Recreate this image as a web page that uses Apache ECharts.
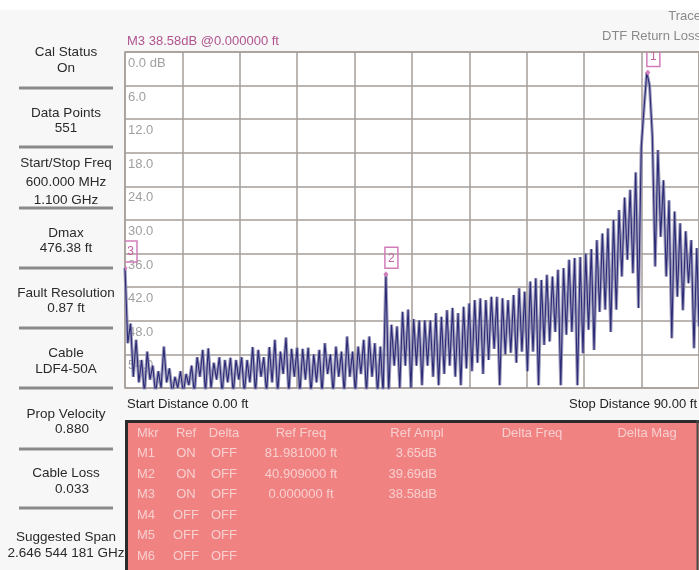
<!DOCTYPE html>
<html><head><meta charset="utf-8">
<script src="https://cdn.jsdelivr.net/npm/echarts/dist/echarts.min.js"></script>
<style>html,body{margin:0;padding:0;background:#f7f7f7;}#c{width:699px;height:570px;}</style>
</head><body><div id="c"></div>
<script>
// ---- DATA ----
// DTF return loss trace: ripple peaks (one per ripple period) and nulls between them, dB
const peakDb = [
 38.58, 48.5, 51.4, 55, 53.5, 56, 57, 52.6, 56.5, 58,
 57, 57.5, 56, 54.5, 53.2, 52.9, 55.5, 54.5, 55, 54.6,
 55, 54.5, 55, 52.7, 53.2, 54.5, 52.7, 51.4, 53.5, 51,
 53, 52.8, 53, 52.8, 54, 53.2, 52, 54, 52.6, 53.5,
 50.8, 53.5, 52.6, 51.4, 50.8, 52, 52.6, 39.69, 48.7, 49,
 46.4, 46, 47.7, 47.9, 47.9, 47.9, 46.6, 47.3, 46.1, 45.7,
 46.6, 45.5, 44.9, 44.3, 44, 44.3, 43.7, 43.7, 44, 44.3,
 43.4, 42.2, 42.8, 41, 40.4, 40.7, 39.8, 40.1, 38.9, 38.6,
 37.1, 36.8, 36.6, 36, 35.2, 33.6, 32.4, 31.5, 30, 28.2,
 26, 24.6, 21.5, 17, 3.65, 15, 17.5, 22.9, 26.5, 28.5,
 30.6, 32, 33.6, 35
];
const nullDb = [
 52, 58, 59, 61, 58.5, 61, 60, 59, 61, 60,
 61, 59.5, 61, 58, 61, 60, 58.5, 61, 59, 61,
 58.5, 61, 59, 61, 58, 61, 59, 61, 57.5, 61,
 58, 61, 58.5, 61, 59, 61, 57.5, 61, 58, 61,
 58, 61, 57.5, 61, 58, 61, 61, 61, 56, 60,
 56, 60, 56, 59.5, 56, 58, 59.5, 57.5, 56, 58,
 59.5, 56.5, 57, 55.5, 57.5, 55, 53, 59.5, 54, 53.7,
 55.5, 53.5, 57, 53.5, 59.5, 52.3, 51.7, 50, 59.5, 50.5,
 50, 59.5, 53.8, 49.6, 53.2, 46.4, 46, 50, 46, 40.1,
 37.1, 39.5, 45.7, 10, 6, 38.3, 33, 40.1, 51.1, 43.7,
 46.1, 41.3, 52.9
];
const endDb = 49;
const rippleFt = 0.8704;           // ripple period along distance
const startFt = 0, stopFt = 90;
const dbMin = 0, dbMax = 60, dbStep = 6, ftStep = 9;

// markers
const mkrNames = ['M1', 'M2', 'M3', 'M4', 'M5', 'M6'];
const mkrRef   = ['ON', 'ON', 'ON', 'OFF', 'OFF', 'OFF'];
const mkrDelta = ['OFF', 'OFF', 'OFF', 'OFF', 'OFF', 'OFF'];
const mkrDist  = [81.981, 40.909, 0.0];
const mkrAmp   = [3.65, 39.69, 38.58];
const tableHeads = ['Mkr', 'Ref', 'Delta', 'Ref Freq', 'Ref Ampl', 'Delta Freq', 'Delta Mag'];

// side panel
const panelTitles = ['Cal Status', 'Data Points', 'Start/Stop Freq', 'Dmax', 'Fault Resolution', 'Cable', 'Prop Velocity', 'Cable Loss', 'Suggested Span'];
const panelValues = [['On'], ['551'], ['600.000 MHz', '1.100 GHz'], ['476.38 ft'], ['0.87 ft'], ['LDF4-50A'], ['0.880'], ['0.033'], ['2.646 544 181 GHz']];

// ---- BUILD ----
const trace = [];
for (let k = 0; k < peakDb.length; k++) {
  trace.push([k * rippleFt, peakDb[k]]);
  if (k < nullDb.length) trace.push([(k + 0.5) * rippleFt, nullDb[k]]);
}
trace.push([stopFt, endDb]);

const markers = mkrDist.map((d, i) => [d, mkrAmp[i], i + 1]);

const FONT = 'Liberation Sans, Arial, sans-serif';
const gridCol = '#a69e99';
const g = [];
g.push({type: 'rect', shape: {x: 0, y: 0, width: 699, height: 10}, style: {fill: '#ffffff'}, silent: true});

// side panel layout
const panelY = [[52, 68], [113, 128], [163, 182, 200], [233, 248], [293, 308], [353, 369], [414, 429], [473, 489], [537, 553]];
const sepY = [88, 147, 208, 268, 328, 388, 449, 508];
panelTitles.forEach((t, i) => {
  g.push({type: 'text', x: 66, y: panelY[i][0], style: {text: t, font: '13.5px ' + FONT, fill: '#2a2a2a', align: 'center', verticalAlign: 'middle'}});
  panelValues[i].forEach((v, j) => {
    const cx = (i === 6 || i === 7) ? 72 : 66;
    g.push({type: 'text', x: cx, y: panelY[i][j + 1], style: {text: v, font: '13.5px ' + FONT, fill: '#2a2a2a', align: 'center', verticalAlign: 'middle'}});
  });
});
sepY.forEach(y => g.push({type: 'line', shape: {x1: 19, y1: y, x2: 113, y2: y}, style: {stroke: '#8a8a8a', lineWidth: 3}}));

// header texts
g.push({type: 'text', x: 127, y: 41, style: {text: 'M3 ' + mkrAmp[2].toFixed(2) + 'dB @' + mkrDist[2].toFixed(6) + ' ft', font: '13px ' + FONT, fill: '#b0558f', align: 'left', verticalAlign: 'middle'}});
g.push({type: 'text', x: 701, y: 16, style: {text: 'Trace', font: '13px ' + FONT, fill: '#8a8a8a', align: 'right', verticalAlign: 'middle'}});
g.push({type: 'text', x: 701, y: 36, style: {text: 'DTF Return Loss', font: '13px ' + FONT, fill: '#8a8a8a', align: 'right', verticalAlign: 'middle'}});
g.push({type: 'text', x: 127, y: 404, style: {text: 'Start Distance ' + startFt.toFixed(2) + ' ft', font: '13px ' + FONT, fill: '#222', align: 'left', verticalAlign: 'middle'}});
g.push({type: 'text', x: 697, y: 404, style: {text: 'Stop Distance ' + stopFt.toFixed(2) + ' ft', font: '13px ' + FONT, fill: '#222', align: 'right', verticalAlign: 'middle'}});

// marker table
g.push({type: 'rect', shape: {x: 125, y: 420, width: 574, height: 150}, style: {fill: '#f08282'}});
g.push({type: 'line', shape: {x1: 125, y1: 421.5, x2: 699, y2: 421.5}, style: {stroke: '#2b2b2b', lineWidth: 3}});
g.push({type: 'line', shape: {x1: 126.5, y1: 420, x2: 126.5, y2: 570}, style: {stroke: '#2b2b2b', lineWidth: 3}});
g.push({type: 'line', shape: {x1: 697.5, y1: 420, x2: 697.5, y2: 570}, style: {stroke: '#4a4a4a', lineWidth: 2}});
const colX = [137, 186, 224, 301, 417, 532, 647];
const rowY = [433, 453.5, 474, 494.5, 515, 535.5, 556];
const tcol = '#f8cfcf';
const tf = '13px ' + FONT;
tableHeads.forEach((h, c) => g.push({type: 'text', x: colX[c], y: rowY[0], style: {text: h, font: tf, fill: tcol, align: c === 0 ? 'left' : 'center', verticalAlign: 'middle'}}));
mkrNames.forEach((m, r) => {
  const y = rowY[r + 1];
  g.push({type: 'text', x: colX[0], y, style: {text: m, font: tf, fill: tcol, align: 'left', verticalAlign: 'middle'}});
  g.push({type: 'text', x: colX[1], y, style: {text: mkrRef[r], font: tf, fill: tcol, align: 'center', verticalAlign: 'middle'}});
  g.push({type: 'text', x: colX[2], y, style: {text: mkrDelta[r], font: tf, fill: tcol, align: 'center', verticalAlign: 'middle'}});
  if (r < mkrDist.length) {
    g.push({type: 'text', x: colX[3], y, style: {text: mkrDist[r].toFixed(6) + ' ft', font: tf, fill: tcol, align: 'center', verticalAlign: 'middle'}});
    g.push({type: 'text', x: 437, y, style: {text: mkrAmp[r].toFixed(2) + 'dB', font: tf, fill: tcol, align: 'right', verticalAlign: 'middle'}});
  }
});

const chart = echarts.init(document.getElementById('c'), null, {renderer: 'canvas'});
chart.setOption({
  animation: false,
  backgroundColor: '#f7f7f7',
  grid: {left: 125, right: 0, top: 52, bottom: 182, show: true, backgroundColor: '#ffffff', borderColor: gridCol, borderWidth: 1.5, containLabel: false},
  xAxis: {
    type: 'value', min: startFt, max: stopFt, interval: ftStep,
    axisLine: {show: false}, axisTick: {show: false}, axisLabel: {show: false},
    splitLine: {show: true, lineStyle: {color: gridCol, width: 1.5}}
  },
  yAxis: {
    type: 'value', min: dbMin, max: dbMax, interval: dbStep, inverse: true,
    axisLine: {show: false}, axisTick: {show: false},
    axisLabel: {
      inside: true, margin: 3, verticalAlign: 'top', padding: [5, 0, 0, 0],
      color: '#a0a0a0', fontSize: 13, fontFamily: FONT,
      formatter: v => v === dbMin ? v.toFixed(1) + ' dB' : (v === dbMax ? '' : v.toFixed(1))
    },
    splitLine: {show: true, lineStyle: {color: gridCol, width: 1.5}}
  },
  series: [
    {
      type: 'line', data: trace, showSymbol: false, symbol: 'none', z: 2, silent: true,
      lineStyle: {color: '#8e8cb0', width: 3.2, opacity: 0.85}, clip: true
    },
    {
      type: 'line', data: trace, showSymbol: false, symbol: 'none', z: 3,
      lineStyle: {color: '#2b2a76', width: 1.1}, clip: true
    },
    {
      type: 'custom', data: markers, z: 4, clip: true,
      renderItem: (params, api) => {
        const p = api.coord([api.value(0), api.value(1)]);
        return {type: 'group', children: [
          {type: 'rect', shape: {x: p[0] - 1, y: p[1] - 27, width: 13, height: 21}, style: {fill: 'none', stroke: '#d27cb9', lineWidth: 1.5}},
          {type: 'text', style: {text: String(api.value(2)), x: p[0] + 5.5, y: p[1] - 16, align: 'center', verticalAlign: 'middle', fill: '#c461a0', font: '12px ' + FONT}},
          {type: 'polygon', shape: {points: [[p[0], p[1] - 3], [p[0] + 2.5, p[1]], [p[0], p[1] + 3], [p[0] - 2.5, p[1]]]}, style: {fill: '#d27cb9'}}
        ]};
      }
    }
  ],
  graphic: {elements: g}
});
</script>
</body></html>
